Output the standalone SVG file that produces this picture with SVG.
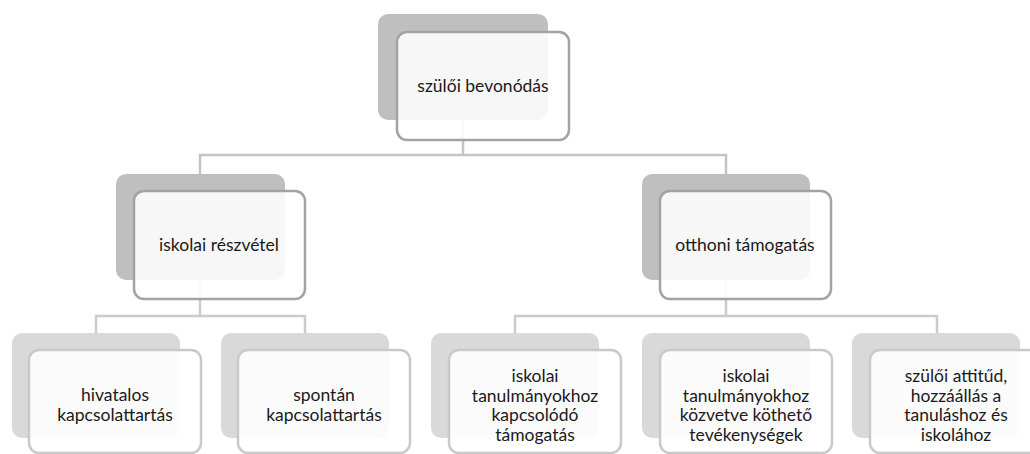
<svg xmlns="http://www.w3.org/2000/svg" width="1030" height="454" viewBox="0 0 1030 454">
<style>
.bg1{fill:#bfbfbf}
.bg2{fill:#d9d9d9}
.fr1{fill:#ffffff;fill-opacity:0.88;stroke:#a3a3a3;stroke-width:2.5}
.fr2{fill:#ffffff;fill-opacity:0.88;stroke:#c9c9c9;stroke-width:2.5}
.c1{fill:none;stroke:#c4c4c4;stroke-width:2.5}
.c2{fill:none;stroke:#cbcbcb;stroke-width:2.5}
text{font-family:Lato,"Liberation Sans",sans-serif;font-size:17.5px;fill:#1a1a1a;text-anchor:middle}
</style>
<g id="connectors">
<path class="c1" d="M463 120V155M200 174V155H726V174"/>
<path class="c2" d="M200 280V316M96 333V316H305V333"/>
<path class="c2" d="M726 280V316M515 333V316H937V333"/>
</g>
<g id="n-root">
<rect class="bg1" x="378" y="14" width="170" height="106" rx="10"/>
<rect class="fr1" x="397" y="32" width="172" height="108" rx="10"/>
<text x="483" y="92">szülői bevonódás</text>
</g>
<g id="n-iskolai">
<rect class="bg1" x="116" y="174" width="169" height="106" rx="10"/>
<rect class="fr1" x="134" y="191" width="171" height="108" rx="10"/>
<text x="219" y="251">iskolai részvétel</text>
</g>
<g id="n-otthoni">
<rect class="bg1" x="642" y="174" width="168" height="106" rx="10"/>
<rect class="fr1" x="660" y="191" width="171" height="108" rx="10"/>
<text x="745" y="251">otthoni támogatás</text>
</g>
<g id="n-hivatalos">
<rect class="bg2" x="12" y="333" width="168" height="105" rx="10"/>
<rect class="fr2" x="29" y="350" width="172" height="103" rx="10"/>
<text x="115" y="401"><tspan x="115">hivatalos</tspan><tspan x="115" dy="19.5">kapcsolattartás</tspan></text>
</g>
<g id="n-spontan">
<rect class="bg2" x="221" y="333" width="168" height="105" rx="10"/>
<rect class="fr2" x="238" y="350" width="172" height="103" rx="10"/>
<text x="324" y="401"><tspan x="324">spontán</tspan><tspan x="324" dy="19.5">kapcsolattartás</tspan></text>
</g>
<g id="n-tanulmany1">
<rect class="bg2" x="431" y="333" width="168" height="105" rx="10"/>
<rect class="fr2" x="449" y="350" width="172" height="103" rx="10"/>
<text x="535" y="382"><tspan x="535">iskolai</tspan><tspan x="535" dy="19.5">tanulmányokhoz</tspan><tspan x="535" dy="19.5">kapcsolódó</tspan><tspan x="535" dy="19.5">támogatás</tspan></text>
</g>
<g id="n-tanulmany2">
<rect class="bg2" x="642" y="333" width="168" height="105" rx="10"/>
<rect class="fr2" x="660" y="350" width="172" height="103" rx="10"/>
<text x="746" y="382"><tspan x="746">iskolai</tspan><tspan x="746" dy="19.5">tanulmányokhoz</tspan><tspan x="746" dy="19.5">közvetve köthető</tspan><tspan x="746" dy="19.5">tevékenységek</tspan></text>
</g>
<g id="n-attitud">
<rect class="bg2" x="852" y="333" width="168" height="105" rx="10"/>
<rect class="fr2" x="870" y="350" width="172" height="103" rx="10"/>
<text x="956" y="382"><tspan x="956">szülői attitűd,</tspan><tspan x="956" dy="19.5">hozzáállás a</tspan><tspan x="956" dy="19.5">tanuláshoz és</tspan><tspan x="956" dy="19.5">iskolához</tspan></text>
</g>
</svg>
